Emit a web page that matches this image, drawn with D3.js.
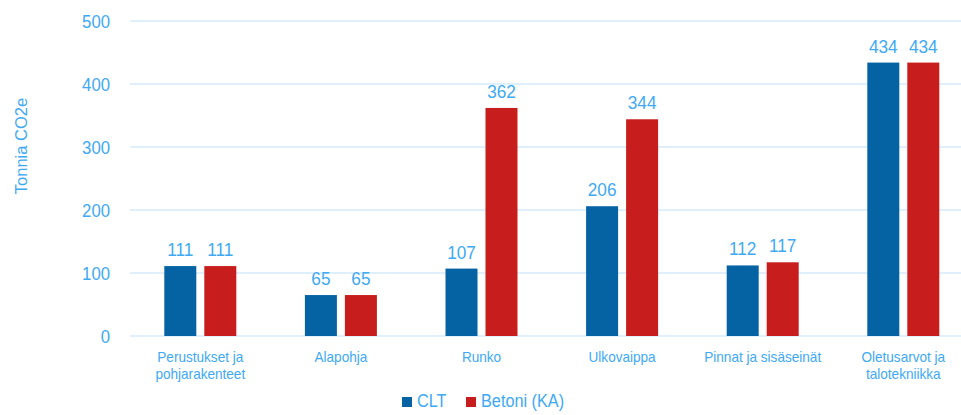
<!DOCTYPE html>
<html>
<head>
<meta charset="utf-8">
<script src="https://cdn.jsdelivr.net/npm/d3@7"></script>
<style>
  html, body { margin: 0; padding: 0; background: #fff; }
  svg { display: block; font-family: "Liberation Sans", Arial, sans-serif; }
</style>
</head>
<body>
<svg id="chart" width="961" height="415"></svg>
<script>
// Embodied carbon per building part, CLT vs. concrete frame
const categories = [
  ["Perustukset ja", "pohjarakenteet"],
  ["Alapohja"],
  ["Runko"],
  ["Ulkovaippa"],
  ["Pinnat ja sisäseinät"],
  ["Oletusarvot ja", "talotekniikka"]
];
const seriesNames = ["CLT", "Betoni (KA)"];
const cltValues = [111, 65, 107, 206, 112, 434];
const betoniValues = [111, 65, 362, 344, 117, 434];
const yTicks = [0, 100, 200, 300, 400, 500];
const yTitle = "Tonnia CO2e";

const colors = ["#0563a3", "#c81d1d"];
const textColor = "#40a9f4";
const gridColor = "#d4ebfb";
const narrow = 0.93; // slightly condensed lettering

const svg = d3.select("#chart");
const W = 961, H = 415;
const plot = { left: 130, right: 973.6, top: 21, bottom: 336 };

const x = d3.scaleBand()
  .domain(d3.range(categories.length))
  .range([plot.left, plot.right])
  .paddingInner(0).paddingOuter(0);

const x1 = d3.scaleBand()
  .domain([0, 1])
  .range([x.bandwidth() / 2 - 36, x.bandwidth() / 2 + 36])
  .paddingInner(0.2);

const y = d3.scaleLinear().domain([0, 500]).range([plot.bottom, plot.top]);

// Gridlines
svg.append("g")
  .selectAll("line")
  .data(yTicks)
  .join("line")
  .attr("x1", plot.left)
  .attr("x2", W)
  .attr("y1", d => y(d))
  .attr("y2", d => y(d))
  .attr("stroke", gridColor)
  .attr("stroke-width", 1.5);

// Y axis tick labels
const yAxis = d3.axisLeft(y).tickValues(yTicks).tickSize(0).tickPadding(0);
const gy = svg.append("g")
  .attr("transform", `translate(110,0)`)
  .call(yAxis);
gy.select(".domain").remove();
gy.selectAll(".tick text")
  .attr("fill", textColor)
  .attr("font-size", "18px")
  .attr("x", null)
  .attr("dy", "0.36em")
  .attr("transform", `scale(${narrow},1)`);

// Y axis title
svg.append("text")
  .attr("transform", "translate(27,146) rotate(-90)")
  .attr("text-anchor", "middle")
  .attr("fill", textColor)
  .attr("font-size", "16.5px")
  .text(yTitle);

// Bars
const series = [cltValues, betoniValues];
const groups = svg.append("g")
  .selectAll("g")
  .data(categories.map((c, i) => i))
  .join("g")
  .attr("transform", i => `translate(${x(i)},0)`);

groups.selectAll("rect")
  .data(i => series.map((s, k) => ({ k, v: s[i] })))
  .join("rect")
  .attr("x", d => x1(d.k))
  .attr("width", x1.bandwidth())
  .attr("y", d => y(d.v))
  .attr("height", d => y(0) - y(d.v))
  .attr("fill", d => colors[d.k]);

// Value labels
groups.selectAll("text.val")
  .data(i => series.map((s, k) => ({ k, v: s[i] })))
  .join("text")
  .attr("class", "val")
  .attr("transform", d => `translate(${x1(d.k) + x1.bandwidth() / 2},${y(d.v) - 10}) scale(${narrow},1)`)
  .attr("text-anchor", "middle")
  .attr("fill", textColor)
  .attr("font-size", "18.5px")
  .text(d => d.v);

// Category labels
groups.append("text")
  .attr("transform", `translate(${x.bandwidth() / 2},362) scale(0.97,1)`)
  .attr("text-anchor", "middle")
  .attr("fill", textColor)
  .attr("font-size", "14px")
  .selectAll("tspan")
  .data(i => categories[i])
  .join("tspan")
  .attr("x", 0)
  .attr("dy", (d, j) => j === 0 ? 0 : 17)
  .text(d => d);

// Legend
const legendItems = [
  { name: seriesNames[0], color: colors[0], x: 402 },
  { name: seriesNames[1], color: colors[1], x: 466 }
];
const lg = svg.append("g");
lg.selectAll("rect")
  .data(legendItems)
  .join("rect")
  .attr("x", d => d.x)
  .attr("y", 397)
  .attr("width", 10)
  .attr("height", 10)
  .attr("fill", d => d.color);
lg.selectAll("text")
  .data(legendItems)
  .join("text")
  .attr("transform", d => `translate(${d.x + 15},407) scale(${narrow},1)`)
  .attr("fill", textColor)
  .attr("font-size", "17.5px")
  .text(d => d.name);
</script>
</body>
</html>
